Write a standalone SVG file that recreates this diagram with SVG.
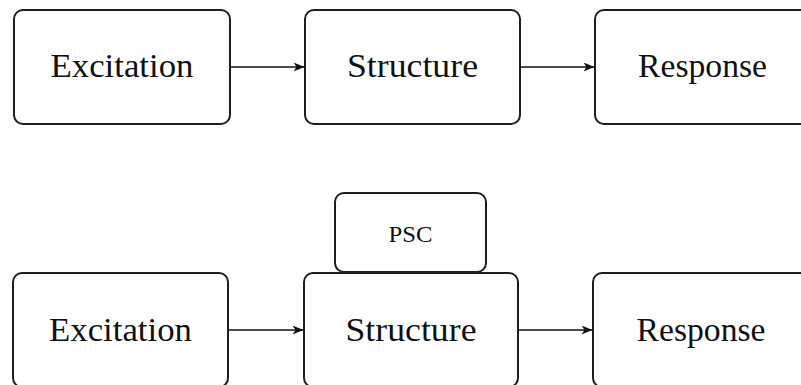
<svg xmlns="http://www.w3.org/2000/svg" width="801" height="385" viewBox="0 0 801 385">
  <defs>
    <style>
      .box { fill: #ffffff; stroke: #1e1e1e; stroke-width: 2; }
      .lbl { font-family: "Liberation Serif", "DejaVu Serif", serif; font-size: 33px; fill: #111111; text-anchor: middle; }
      .small { font-size: 23px; }
      .edge { stroke: #111111; stroke-width: 1.6; fill: none; marker-end: url(#stealth); }
    </style>
    <marker id="stealth" viewBox="0 0 11 9" refX="10.5" refY="4.5" markerWidth="11" markerHeight="9" markerUnits="userSpaceOnUse" orient="auto">
      <path d="M0,0 L11,4.5 L0,9 L3,4.5 Z" fill="#111111"/>
    </marker>
  </defs>

  <!-- upper chain -->
  <g id="excitation1">
    <rect class="box" x="14" y="10" width="216" height="114" rx="9"/>
    <text class="lbl" x="122" y="77" textLength="143" lengthAdjust="spacingAndGlyphs">Excitation</text>
  </g>
  <g id="structure1">
    <rect class="box" x="305" y="10" width="215" height="114" rx="9"/>
    <text class="lbl" x="412.5" y="77" textLength="131" lengthAdjust="spacingAndGlyphs">Structure</text>
  </g>
  <g id="response1">
    <rect class="box" x="595" y="10" width="216" height="114" rx="9"/>
    <text class="lbl" x="702.5" y="77" textLength="129" lengthAdjust="spacingAndGlyphs">Response</text>
  </g>

  <!-- lower chain -->
  <g id="excitation2">
    <rect class="box" x="13" y="273" width="215" height="114" rx="9"/>
    <text class="lbl" x="120.5" y="340.5" textLength="143" lengthAdjust="spacingAndGlyphs">Excitation</text>
  </g>
  <g id="structure2">
    <rect class="box" x="304" y="273" width="214" height="114" rx="9"/>
    <text class="lbl" x="411" y="340.5" textLength="131" lengthAdjust="spacingAndGlyphs">Structure</text>
  </g>
  <g id="psc">
    <rect class="box" x="335" y="193" width="151" height="79" rx="9"/>
    <text class="lbl small" x="410.5" y="242" textLength="44" lengthAdjust="spacingAndGlyphs">PSC</text>
  </g>
  <g id="response2">
    <rect class="box" x="593" y="273" width="216" height="114" rx="9"/>
    <text class="lbl" x="701" y="340.5" textLength="129" lengthAdjust="spacingAndGlyphs">Response</text>
  </g>

  <!-- connectors -->
  <g id="connectors">
    <line class="edge" x1="230" y1="67" x2="304" y2="67"/>
    <line class="edge" x1="520" y1="67" x2="594" y2="67"/>
    <line class="edge" x1="228" y1="330" x2="303" y2="330"/>
    <line class="edge" x1="518" y1="330" x2="592" y2="330"/>
  </g>
</svg>
